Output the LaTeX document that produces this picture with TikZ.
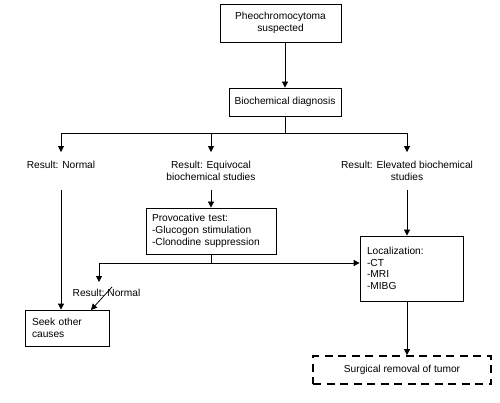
\documentclass[tikz,border=0pt]{standalone}
\usepackage{fontspec}
\setmainfont{Liberation Sans}
\usetikzlibrary{arrows.meta}
\begin{document}
\begin{tikzpicture}[x=1pt,y=-1pt,
  box/.style={draw, line width=0.8pt, inner sep=0pt},
  lbox/.style={box, align=left, inner xsep=7pt},
  arr/.style={-{Triangle[length=6pt,width=6pt]}, line width=0.8pt},
  ln/.style={line width=0.8pt},
  lbl/.style={align=center, inner xsep=0pt, inner ysep=9pt},
  font=\fontsize{10.2}{12}\selectfont]
\useasboundingbox (0,0) rectangle (500,403);

\node[box, minimum width=121pt, minimum height=38pt, align=center] (pheo) at (280.5,23) {Pheochromocytoma\\suspected};
\node[box, minimum width=112pt, minimum height=28pt] (bio) at (285,102) {Biochemical diagnosis};
\draw[arr] (bio.north |- pheo.south) -- (bio.north);

\coordinate (split) at (285,133);
\node[lbl] (rn) at (61,165) {Result: Normal};
\node[lbl] (req) at (211,171) {Result: Equivocal\\biochemical studies};
\node[lbl] (rel) at (407,171) {Result: Elevated biochemical\\studies};
\draw[ln] (bio.south) -- (split);
\draw[ln] (rn.north |- split) -- (rel.north |- split);
\draw[arr] (rn.north |- split) -- (rn.north);
\draw[arr] (req.north |- split) -- (req.north);
\draw[arr] (rel.north |- split) -- (rel.north);

\node[lbox, minimum width=130pt, minimum height=46pt, inner xsep=6pt, text width=118pt] (prov) at (211,231) {Provocative test:\\-Glucogon stimulation\\-Clonodine suppression};
\draw[arr] (req.south) -- (prov.north);

\node[lbox, minimum width=103pt, minimum height=65pt, text width=89pt, font=\fontsize{10.2}{11.5}\selectfont] (loc) at (411.5,268.5) {Localization:\\-CT\\-MRI\\-MIBG};
\draw[arr] (rel.south) -- (rel.south |- loc.north);

\node[lbox, minimum width=84pt, minimum height=36pt, text width=70pt, font=\fontsize{10.2}{11.5}\selectfont] (seek) at (67,328) {Seek other\\causes};
\draw[arr] (rn.south |- req.south) -- (rn.south |- seek.north);

\coordinate (j) at (211,263);
\coordinate (jl) at (99,263);
\coordinate (jld) at (99,282);
\draw[ln] (prov.south) -- (j);
\draw[arr] (j) -- (j -| loc.west);
\draw[arr] (j) -- (jl) -- (jld);
\node[inner sep=0pt] (rn2) at (106.5,293) {Result:\hspace{3pt}Normal};
\coordinate (slash) at (112,287);
\coordinate (seekin) at (91,310);
\draw[arr] (slash) -- (seekin);

\node[draw, line width=1.8pt, dash pattern=on 8pt off 5.5pt, minimum width=178pt, minimum height=28pt, inner sep=0pt] (surg) at (402,370) {Surgical removal of tumor};
\draw[arr] (rel.south |- loc.south) -- (rel.south |- surg.north);
\end{tikzpicture}
\end{document}
